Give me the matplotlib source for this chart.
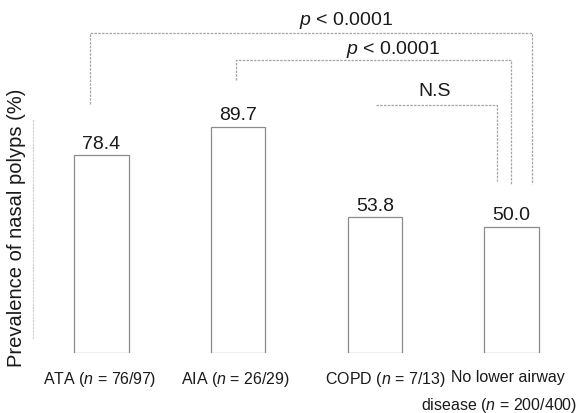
import matplotlib.pyplot as plt
import numpy as np

groups = ["ATA", "AIA", "COPD", "No lower airway disease"]
tick_labels = ["ATA ($\\it{n}$ = 76/97)", "AIA ($\\it{n}$ = 26/29)",
               "COPD ($\\it{n}$ = 7/13)", "No lower airway\ndisease ($\\it{n}$ = 200/400)"]
prevalence = [78.4, 89.7, 53.8, 50.0]
comparisons = ["$p$ < 0.0001", "$p$ < 0.0001", "N.S"]

plt.rcParams['font.family'] = ['Liberation Sans', 'DejaVu Sans']
plt.rcParams['mathtext.fontset'] = 'custom'
plt.rcParams['mathtext.it'] = 'Liberation Sans:italic'
plt.rcParams['mathtext.rm'] = 'Liberation Sans'

fig = plt.figure(figsize=(5.8, 4.14), dpi=100)
ax = fig.add_axes([33/580, 60/414, 532/580, 327.6/414])

x = np.arange(len(groups))
ax.bar(x, prevalence, width=0.4, color='white', edgecolor='#8c8c8c', linewidth=0.9)
ax.set_xlim(-0.5, 3.39)
ax.set_ylim(0, 130)

for xi, v in zip(x, prevalence):
    ax.text(xi, v + 1.5, f"{v:.1f}", ha='center', va='bottom', fontsize=14, color='#1a1a1a')

for s in ['top', 'right', 'bottom']:
    ax.spines[s].set_visible(False)
ax.spines['left'].set_color('#cccccc')
ax.spines['left'].set_linestyle((0, (1, 2)))
ax.spines['left'].set_linewidth(0.8)
ax.spines['left'].set_bounds(6, 93)
ax.set_yticks([])
ax.set_xticks([])

fig.text(17/580, 186/414, "Prevalence of nasal polyps (%)", rotation=90,
         ha='center', va='center', fontsize=14.5, color='#1a1a1a')

# category labels
label_x = [-0.015, 0.98, 2.075, 2.975]
for lx, lab in zip(label_x[:3], tick_labels[:3]):
    ax.text(lx, -6.5, lab, ha='center', va='top', fontsize=11.5, color='#1a1a1a')
line1, line2 = tick_labels[3].split("\n")
ax.text(label_x[3], -6.5, line1, ha='center', va='top', fontsize=11.5, color='#1a1a1a')
ax.text(3.48, -16.6, line2, ha='right', va='top', fontsize=11.5, color='#1a1a1a')

# significance brackets
bc = '#a5a5a5'
lw = 0.9
ls = (0, (2, 1))
ax.plot([-0.084, -0.084, 3.149, 3.149], [98.8, 127, 127, 67], color=bc, lw=lw, ls=ls, clip_on=False)
ax.text(1.79, 132.5, comparisons[0], ha='center', va='center', fontsize=14, color='#1a1a1a')
ax.plot([0.984, 0.984, 2.996, 2.996], [108.3, 116.3, 116.3, 67], color=bc, lw=lw, ls=ls, clip_on=False)
ax.text(2.136, 121, comparisons[1], ha='center', va='center', fontsize=14, color='#1a1a1a')
ax.plot([2.008, 2.89, 2.89], [98.4, 98.4, 68.3], color=bc, lw=lw, ls=ls, clip_on=False)
ax.text(2.436, 104, comparisons[2], ha='center', va='center', fontsize=14, color='#1a1a1a')

fig.savefig("out.png", dpi=100)
